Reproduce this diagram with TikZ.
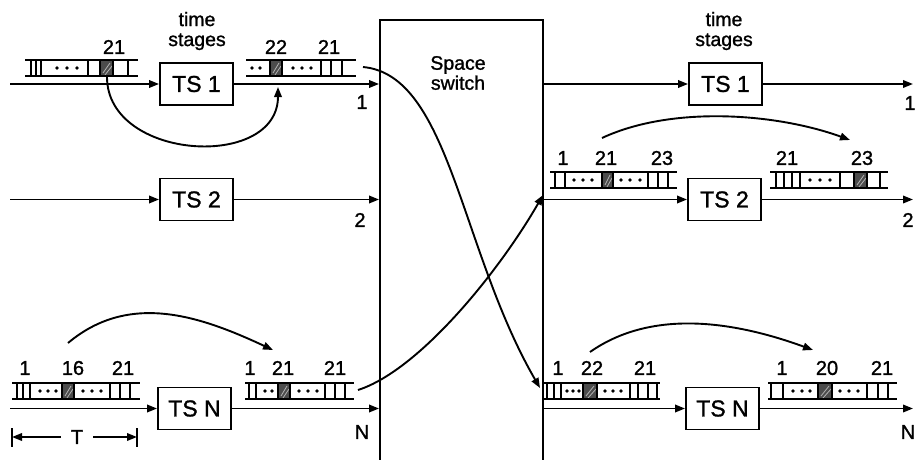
\documentclass[tikz,border=0pt]{standalone}
\usepackage{fontspec}
\setmainfont[BoldFont={Liberation Sans},BoldFeatures={FakeBold=1.2}]{Liberation Sans}
\usetikzlibrary{arrows.meta,calc}
\tikzset{
  conn/.style={line width=1.9pt,-{Triangle[length=10pt,width=7.5pt]}},
  plain/.style={line width=1.9pt},
  tsbox/.style={draw,line width=1.9pt,minimum width=73pt,minimum height=42pt,inner sep=0pt,font=\fontsize{23}{25}\selectfont\bfseries},
  lab/.style={inner sep=0pt,font=\fontsize{20}{22}\selectfont\bfseries},
  rail/.style={line width=1.7pt},
  tick/.style={line width=1.7pt},
  hatchfill/.style={fill=black!70},
}
% #1 name, #2 x0, #3 x1, #4 ytop, #5 ticks, #6 dots, #7 hatch x0, #8 hatch x1
\newcommand\tframe[8]{%
  \fill[hatchfill] (#7,#4) rectangle (#8,#4+16);
  \draw[black!30,line width=0.8pt] ({#7+3},#4+13) -- ({#8-3},#4+3) ({#7+5},#4+15) -- ({#8-1},#4+6);
  \draw[rail] (#2,#4) -- (#3,#4) (#2,#4+16) -- (#3,#4+16);
  \foreach \t in {#5} {\draw[tick] (\t,#4) -- (\t,#4+16);}
  \foreach \d in {#6} {\fill (\d,#4+8) circle (1.8);}
  \coordinate (#1w) at (#2,#4+8);
  \coordinate (#1e) at (#3,#4+8);
}
\begin{document}
\begin{tikzpicture}[x=1pt,y=-1pt]
\useasboundingbox (0,0) rectangle (918,460);
% space switch
\node[draw,line width=1.9pt,minimum width=163pt,minimum height=445pt,inner sep=0pt] (sw) at (461.5,242.5) {};
\node[lab,align=center,font=\fontsize{19.5}{20}\selectfont\bfseries] (swt) at (458,73) {Space\\switch};
% time stages labels
\node[lab,align=center,font=\fontsize{19.5}{20}\selectfont\bfseries] (tsl) at (197,31) {time\\stages};
\node[lab,align=center,font=\fontsize{19.5}{20}\selectfont\bfseries] (tsr) at (724,31) {time\\stages};
% TS boxes
\node[tsbox] (lts1) at (196.5,84) {TS 1};
\node[tsbox] (lts2) at (196.5,199.5) {TS 2};
\node[tsbox] (ltsn) at (194.5,408.5) {TS N};
\node[tsbox] (rts1) at (725.5,84) {TS 1};
\node[tsbox] (rts2) at (724.5,199.5) {TS 2};
\node[tsbox] (rtsn) at (722.5,408.5) {TS N};
% input/output coordinates
\coordinate (in1) at (10,84);
\coordinate (in2) at (10,199.5);
\coordinate (inn) at (10,408.5);
\coordinate (out1) at (913,84);
\coordinate (out2) at (913,199.5);
\coordinate (outn) at (913,408.5);
% row lines left
\draw[conn] (in1) -- (lts1);
\draw[conn] (lts1) -- (lts1 -| sw.west);
\draw[conn] (in2) -- (lts2);
\draw[conn] (lts2) -- (lts2 -| sw.west);
\draw[conn] (inn) -- (ltsn);
\draw[conn] (ltsn) -- (ltsn -| sw.west);
% row lines right
\draw[conn] (rts1 -| sw.east) -- (rts1);
\draw[conn] (rts1) -- (out1);
\draw[conn] (rts2 -| sw.east) -- (rts2);
\draw[conn] (rts2) -- (out2);
\draw[conn] (rtsn -| sw.east) -- (rtsn);
\draw[conn] (rtsn) -- (outn);
% line numbers
\node[lab] (l1) at (362,102) {1};
\node[lab] (l2) at (360,220) {2};
\node[lab] (ln) at (362,432) {N};
\node[lab] (r1) at (910,103) {1};
\node[lab] (r2) at (908,220) {2};
\node[lab] (rn) at (908,432) {N};
% frames
\tframe{L1i}{25}{138}{60}{31,36,41,88,100,113,128}{57,67,77}{100}{113}
\tframe{L1o}{246}{356}{60}{270,282,321,331,342}{252,260,293,302,311}{270}{282}
\tframe{LNi}{12}{140}{383}{17,23,30,62,74,110,120,130}{40,48,56,83,92,101}{62}{74}
\tframe{LNo}{245}{354}{383}{249,256,278,290,325,335,345}{265,272,299,308,317}{278}{290}
\tframe{R2i}{550}{677}{172}{555,565,602,613,648,658,668}{574,583,592,621,630,640}{602}{613}
\tframe{R2o}{770}{888}{172}{776,784,792,800,840,854,867,880}{810,820,830}{854}{867}
\tframe{RNi}{543}{660}{383}{547,554,561,583,597,630,638,648,657}{567,573,579,605,613,621}{583}{597}
\tframe{RNo}{768}{897}{383}{771,783,818,832,867,878,888}{793,802,810,840,849,858}{818}{832}
% frame labels
\node[lab] (a1) at (114,47) {21};
\node[lab] (a2) at (276,47) {22};
\node[lab] (a3) at (329,47) {21};
\node[lab] (b1) at (25,368) {1};
\node[lab] (b2) at (73,368) {16};
\node[lab] (b3) at (123,368) {21};
\node[lab] (c1) at (250,368) {1};
\node[lab] (c2) at (283,368) {21};
\node[lab] (c3) at (335,368) {21};
\node[lab] (d1) at (563,158) {1};
\node[lab] (d2) at (606,158) {21};
\node[lab] (d3) at (662,158) {23};
\node[lab] (e1) at (787,158) {21};
\node[lab] (e2) at (862,158) {23};
\node[lab] (f1) at (558,368) {1};
\node[lab] (f2) at (592,368) {22};
\node[lab] (f3) at (645,368) {21};
\node[lab] (g1) at (782,368) {1};
\node[lab] (g2) at (827,368) {20};
\node[lab] (g3) at (882,368) {21};
% slot-interchange arcs
\coordinate (p1s) at (107,77);
\coordinate (p1e) at (278,87);
\draw[conn] (p1s) to[out=-90,in=-90,looseness=1.25] (p1e);
\coordinate (pns) at (68,343);
\coordinate (pne) at (273,350);
\draw[conn] (pns) to[out=40,in=155] (pne);
\coordinate (q1s) at (602,138);
\coordinate (q1e) at (850,140);
\draw[conn] (q1s) to[out=25,in=160,looseness=0.8] (q1e);
\coordinate (qns) at (590,352);
\coordinate (qne) at (813,350);
\draw[conn] (qns) to[out=35,in=160,looseness=0.9] (qne);
% space switch connections
\coordinate (ca) at (363,67);
\coordinate (cae) at (540,388);
\draw[conn] (ca) .. controls (450,75) and (460,250) .. (cae);
\coordinate (cb) at (358,390);
\coordinate (cbe) at (543,195);
\draw[conn] (cb) .. controls (420,370) and (500,270) .. (cbe);
% T dimension
\coordinate (tl) at (12,437);
\coordinate (tr) at (137,437);
\node[lab] (tt) at (77,437) {T};
\draw[plain] (12,428) -- (12,447) (137,428) -- (137,447);
\draw[conn] (tt.west) ++(-10,0) -- (tl);
\draw[conn] (tt.east) ++(10,0) -- (tr);
\end{tikzpicture}
\end{document}
